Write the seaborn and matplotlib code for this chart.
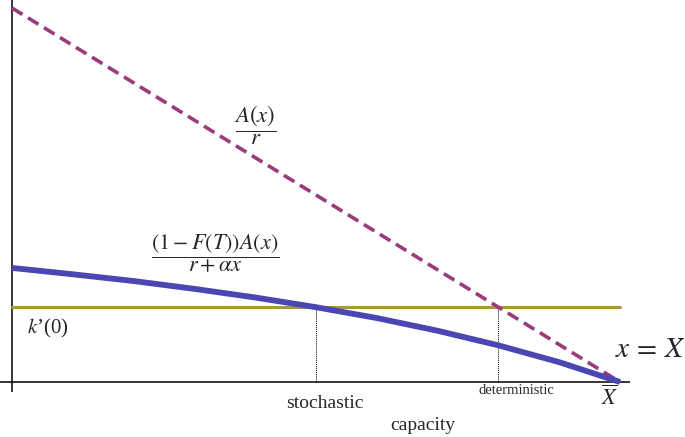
import numpy as np
import pandas as pd
import seaborn as sns
from matplotlib import pyplot as plt

# capacity as a share of X-bar
capacity = [0.0, 0.1, 0.2, 0.3, 0.4, 0.5, 0.6, 0.7, 0.8, 0.9, 1.0]
# A(x)/r, straight line
a_over_r = [1.0, 0.9, 0.8, 0.7, 0.6, 0.5, 0.4, 0.3, 0.2, 0.1, 0.0]
# (1-F(T))A(x)/(r+ax)
stoch_value = [0.305, 0.288, 0.270, 0.249, 0.226, 0.200, 0.171, 0.137, 0.098, 0.053, 0.0]
k_prime = 0.2
x_stochastic = 0.5
x_deterministic = 0.8

W, H = 685, 437
PURPLE = "#9c3a7c"
BLUE = "#4a46b2"
OLIVE = "#a8993a"

sns.set_style("white")
plt.rcParams["font.family"] = ["Liberation Serif", "DejaVu Serif"]
plt.rcParams["mathtext.fontset"] = "stix"

fig = plt.figure(figsize=(W / 100, H / 100), dpi=100)
ax = fig.add_axes([0, 45 / H, 630 / W, 392 / H])

df = pd.DataFrame({"capacity": capacity, "a_over_r": a_over_r, "stoch": stoch_value})
sns.lineplot(data=df, x="capacity", y="a_over_r", ax=ax, color=PURPLE,
             linewidth=2.6, linestyle=(0, (3.4, 1.8)))
sns.lineplot(data=df, x="capacity", y="stoch", ax=ax, color=BLUE, linewidth=4.2,
             solid_capstyle="butt")
ax.plot([0, 1], [k_prime, k_prime], color=OLIVE, linewidth=2.2, zorder=1)
for xv in (x_stochastic, x_deterministic):
    ax.plot([xv, xv], [0, k_prime], color="black", linewidth=0.7,
            linestyle=(0, (1, 1)), zorder=1)

ax.axhline(0, color="black", linewidth=1.1, zorder=0)
ax.axvline(0, color="black", linewidth=1.1, zorder=0)
ax.set_xlim(-12 / 608, 1 + 10 / 608)
ax.set_ylim(-10 / 374, 1 + 8 / 374)
ax.set_xticks([])
ax.set_yticks([])
ax.set_xlabel("")
ax.set_ylabel("")
sns.despine(ax=ax, left=True, bottom=True, top=True, right=True)


def px(x, y):
    return x / W, 1 - y / H


fig.text(*px(255, 125), r"$\dfrac{A(x)}{r}$", fontsize=16.5, ha="center", va="center")
fig.text(*px(215, 254), r"$\dfrac{(1-F(T))A(x)}{r+\alpha x}$", fontsize=16,
         ha="center", va="center")
fig.text(*px(48, 328), r"$k$’(0)", fontsize=15, ha="center", va="center")
fig.text(*px(325, 403), "stochastic", fontsize=14, ha="center", va="center")
fig.text(*px(516, 390), "deterministic", fontsize=10.5, ha="center", va="center")
fig.text(*px(610, 398), r"$\overline{X}$", fontsize=16, ha="center", va="center")
fig.text(*px(650, 350), r"$x\,=\,X$", fontsize=21, ha="center", va="center")
fig.text(*px(423, 426), "capacity", fontsize=14, ha="center", va="center")

fig.savefig("out.png", dpi=100)
